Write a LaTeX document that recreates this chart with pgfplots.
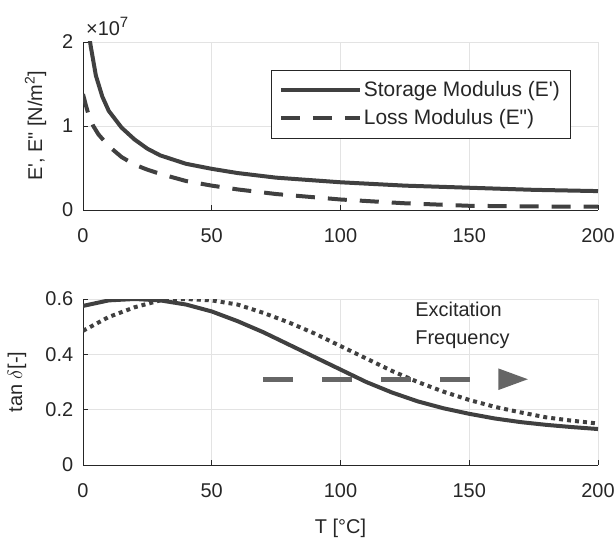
\documentclass[border=0pt]{standalone}
\usepackage{fontspec}
\setmainfont{Liberation Sans}
\usepackage{pgfplots}
\pgfplotsset{compat=1.18}
\usetikzlibrary{arrows.meta}
\definecolor{lc}{HTML}{404040}
\definecolor{ac}{HTML}{262626}
\definecolor{gc}{HTML}{E3E3E3}
\definecolor{arr}{HTML}{666666}
\newcommand{\ff}{\fontsize{20}{24}\selectfont}
\newcommand{\fl}{\fontsize{21}{25}\selectfont}
\begin{document}
\ff
\begin{tikzpicture}
\path[use as bounding box] (0,0) rectangle (616bp,538bp);
\pgfplotsset{myax/.style={
 scale only axis, width=515bp,
 xmin=0, xmax=200, xtick={0,50,...,200},
 axis lines*=left, axis line style={ac,-, line width=0.8bp},
 grid=major, major grid style={gc, line width=0.8bp},
 tick align=inside, major tick length=5bp, tick style={ac, line width=0.8bp},
 ticklabel style={font=\ff, text=ac},
 xticklabel style={yshift=-12bp},
 yticklabel style={xshift=-3bp},
 /pgf/number format/assume math mode=true,
 label style={font=\ff, text=ac},
 clip mode=individual,
}}
\begin{axis}[myax, name=top,
 at={(83bp,328bp)}, anchor=south west, height=168bp,
 ymin=0, ymax=2e7, ytick={0,1e7,2e7}, yticklabels={0,1,2},
 scaled y ticks=false,
 ylabel={E\textquotesingle, E\textquotedbl\ [N/m\textsuperscript{2}]},
 y label style={at={(rel axis cs:0,0.5)}, anchor=south, yshift=30bp},
 legend style={at={(rel axis cs:0.9456,0.833)}, anchor=north east, draw=ac, fill=white, font=\fl, text=ac, inner xsep=8bp, inner ysep=9bp, row sep=6bp},
 legend cell align=left,
 legend image code/.code={\draw[#1] (0bp,0bp) -- (79bp,0bp);},
]
\addplot[lc, line width=4bp] coordinates {
(0,2.6e7)(1,2.35e7)(2,2.15e7)(3,1.95e7)(5,1.6e7)(7.5,1.35e7)(10,1.18e7)(15,0.98e7)(20,0.84e7)(25,0.73e7)(30,0.65e7)(40,0.55e7)(50,0.49e7)(60,0.44e7)(75,0.385e7)(100,0.33e7)(125,0.29e7)(150,0.265e7)(175,0.24e7)(200,0.225e7)};
\addlegendentry{Storage Modulus (E\textquotesingle)}
\addplot[lc, line width=4bp, dash pattern=on 19bp off 13bp] coordinates {
(0,1.38e7)(1,1.26e7)(2,1.15e7)(4,1.0e7)(6,0.9e7)(10,0.76e7)(15,0.63e7)(20,0.54e7)(25,0.48e7)(30,0.43e7)(40,0.345e7)(50,0.29e7)(60,0.245e7)(75,0.19e7)(100,0.125e7)(125,0.08e7)(150,0.05e7)(175,0.042e7)(200,0.04e7)};
\addlegendentry{Loss Modulus (E\textquotedbl)}
\end{axis}
\node[anchor=base west, inner sep=0pt, text=ac, font=\ff] at ([xshift=3bp,yshift=6bp]top.north west) {\texttimes10\raisebox{0.45em}{\fontsize{15}{18}\selectfont 7}};
\begin{axis}[myax,
 at={(83bp,73bp)}, anchor=south west, height=166bp,
 ymin=0, ymax=0.6, ytick={0,0.2,0.4,0.6},
 ylabel={tan $\delta$[-]},
 y label style={at={(rel axis cs:0,0.5)}, anchor=south, yshift=50bp},
 xlabel={T [°C]},
 x label style={yshift=-8bp},
]
\addplot[lc, line width=4bp] coordinates {
(0,0.575)(10,0.595)(20,0.6)(30,0.595)(40,0.58)(50,0.555)(60,0.52)(70,0.48)(80,0.435)(90,0.39)(100,0.345)(110,0.3)(120,0.262)(130,0.23)(140,0.205)(150,0.185)(160,0.168)(170,0.155)(180,0.145)(190,0.137)(200,0.13)};
\addplot[lc, line width=4bp, dash pattern=on 4bp off 4bp] coordinates {
(0,0.485)(10,0.535)(20,0.57)(30,0.595)(40,0.6)(50,0.595)(60,0.58)(70,0.55)(80,0.515)(90,0.475)(100,0.43)(110,0.385)(120,0.34)(130,0.3)(140,0.265)(150,0.235)(160,0.21)(170,0.19)(180,0.172)(190,0.16)(200,0.15)};
\addplot[arr, line width=5bp, dash pattern=on 29.5bp off 29.5bp, -{Triangle[length=30bp,width=20bp]}] coordinates {(70,0.31) (173,0.31)};
\node[anchor=west, align=left, font=\fontsize{20}{28}\selectfont, text=ac, inner sep=0pt] at (axis cs:129,0.505) {Excitation\\Frequency};
\end{axis}
\end{tikzpicture}
\end{document}
